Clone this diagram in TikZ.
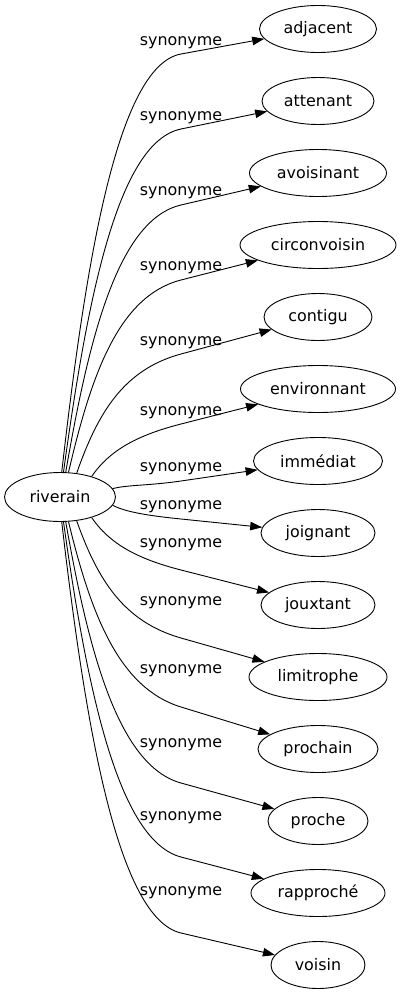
\documentclass[tikz,border=0pt]{standalone}
\usepackage{fontspec}
\setmainfont{DejaVu Sans}
\usetikzlibrary{shapes.geometric,arrows.meta,calc}
\begin{document}
\begin{tikzpicture}[x=1bp,y=-1bp,
  every node/.style={font=\fontsize{15.9bp}{19bp}\selectfont},
  word/.style={draw, ellipse, inner sep=0pt, minimum height=47bp, line width=0.9bp},
  lbl/.style={inner sep=0pt, anchor=base},
  syn/.style={line width=0.9bp, -{Triangle[length=12bp,width=8.5bp]}}]
\useasboundingbox (0,0) rectangle (402,995);
\node[word, minimum width=111bp, minimum height=49bp] (riverain) at (60,497) {riverain};
\node[word, minimum width=117bp] (n1) at (318,29) {adjacent};
\node[word, minimum width=112bp] (n2) at (318,101) {attenant};
\node[word, minimum width=137bp] (n3) at (318,173) {avoisinant};
\node[word, minimum width=156bp] (n4) at (318,245) {circonvoisin};
\node[word, minimum width=108bp] (n5) at (318,317) {contigu};
\node[word, minimum width=155bp] (n6) at (318,389) {environnant};
\node[word, minimum width=129bp] (n7) at (318,461) {immédiat};
\node[word, minimum width=114bp] (n8) at (318,533) {joignant};
\node[word, minimum width=114bp] (n9) at (318,605) {jouxtant};
\node[word, minimum width=138bp] (n10) at (318,677) {limitrophe};
\node[word, minimum width=120bp] (n11) at (318,749) {prochain};
\node[word, minimum width=100bp] (n12) at (318,821) {proche};
\node[word, minimum width=134bp] (n13) at (318,893) {rapproché};
\node[word, minimum width=94bp] (n14) at (318,965) {voisin};
% #1 start angle, #2 y at x=181, #3 target, #4 label y, #5 bend distance
\newcommand\synedge[5]{%
  \coordinate (s#3) at (riverain.#1);
  \coordinate (p#3) at (181,#2);
  \node[lbl] (l#3) at (181,#4+5) {synonyme};
  \draw[syn] let \p1=(s#3), \p2=(p#3) in
    (s#3) .. controls ({\x1+0.2*(\x2-\x1)},{\y1+0.5*(\y2-\y1)}) and ($(p#3)!-#5bp!(#3)$) .. (p#3) -- (#3);
}
\synedge{86}{54}{n1}{40}{65}
\synedge{82}{129}{n2}{115}{65}
\synedge{77}{205}{n3}{190}{65}
\synedge{71}{280}{n4}{265}{65}
\synedge{55}{354}{n5}{340}{60}
\synedge{33}{424}{n6}{410}{45}
\synedge{9}{481}{n7}{466}{33}
\synedge{-9}{519}{n8}{504}{33}
\synedge{-33}{570}{n9}{542}{45}
\synedge{-55}{638}{n10}{600}{60}
\synedge{-71}{707}{n11}{668}{65}
\synedge{-77}{783}{n12}{742}{65}
\synedge{-82}{857}{n13}{815}{65}
\synedge{-86}{933}{n14}{890}{65}
\end{tikzpicture}
\end{document}
